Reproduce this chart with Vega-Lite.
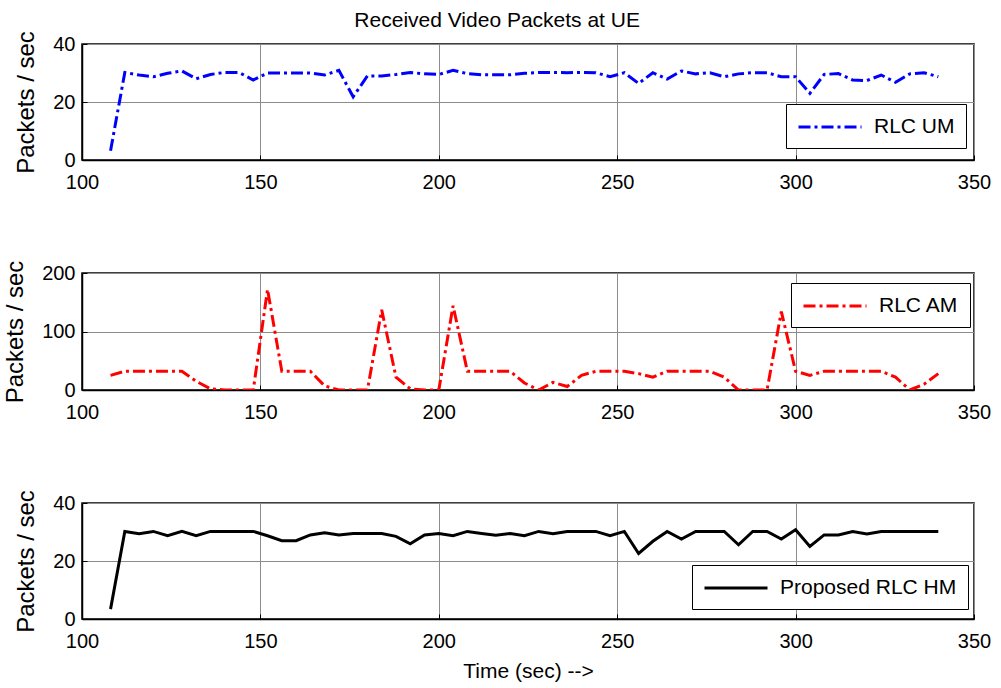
{
  "$schema": "https://vega.github.io/schema/vega-lite/v6.json",
  "background": "white",
  "padding": {"left": 2, "top": 9, "right": 5, "bottom": 5},
  "title": {"text": "Received Video Packets at UE", "fontSize": 21, "fontWeight": "normal", "font": "Liberation Sans", "color": "black", "anchor": "middle", "offset": -1},
  "data": {"values": [
    {"t":108,"RLC UM":3.2,"RLC AM":25,"Proposed RLC HM":3.4},
    {"t":112,"RLC UM":30.2,"RLC AM":32,"Proposed RLC HM":30.2},
    {"t":116,"RLC UM":29.3,"RLC AM":32,"Proposed RLC HM":29.4},
    {"t":120,"RLC UM":28.7,"RLC AM":32,"Proposed RLC HM":30.2},
    {"t":124,"RLC UM":29.9,"RLC AM":32,"Proposed RLC HM":28.7},
    {"t":128,"RLC UM":30.7,"RLC AM":32,"Proposed RLC HM":30.2},
    {"t":132,"RLC UM":28,"RLC AM":15,"Proposed RLC HM":28.7},
    {"t":136,"RLC UM":29.5,"RLC AM":2,"Proposed RLC HM":30.2},
    {"t":140,"RLC UM":30.2,"RLC AM":0,"Proposed RLC HM":30.2},
    {"t":144,"RLC UM":30.2,"RLC AM":0,"Proposed RLC HM":30.2},
    {"t":148,"RLC UM":27.6,"RLC AM":0,"Proposed RLC HM":30.2},
    {"t":152,"RLC UM":30,"RLC AM":172,"Proposed RLC HM":28.7},
    {"t":156,"RLC UM":30,"RLC AM":32,"Proposed RLC HM":27},
    {"t":160,"RLC UM":30,"RLC AM":32,"Proposed RLC HM":27},
    {"t":164,"RLC UM":30,"RLC AM":32,"Proposed RLC HM":29},
    {"t":168,"RLC UM":29.3,"RLC AM":7,"Proposed RLC HM":29.7},
    {"t":172,"RLC UM":30.9,"RLC AM":0,"Proposed RLC HM":29},
    {"t":176,"RLC UM":21.8,"RLC AM":0,"Proposed RLC HM":29.5},
    {"t":180,"RLC UM":29,"RLC AM":0,"Proposed RLC HM":29.5},
    {"t":184,"RLC UM":29,"RLC AM":137,"Proposed RLC HM":29.5},
    {"t":188,"RLC UM":29.5,"RLC AM":22,"Proposed RLC HM":28.5},
    {"t":192,"RLC UM":30.2,"RLC AM":2,"Proposed RLC HM":25.9},
    {"t":196,"RLC UM":29.7,"RLC AM":0,"Proposed RLC HM":29},
    {"t":200,"RLC UM":29.5,"RLC AM":0,"Proposed RLC HM":29.5},
    {"t":204,"RLC UM":30.9,"RLC AM":144,"Proposed RLC HM":28.7},
    {"t":208,"RLC UM":29.8,"RLC AM":32,"Proposed RLC HM":30.2},
    {"t":212,"RLC UM":29.4,"RLC AM":32,"Proposed RLC HM":29.5},
    {"t":216,"RLC UM":29.4,"RLC AM":32,"Proposed RLC HM":28.9},
    {"t":220,"RLC UM":29.4,"RLC AM":32,"Proposed RLC HM":29.5},
    {"t":224,"RLC UM":29.9,"RLC AM":12,"Proposed RLC HM":28.7},
    {"t":228,"RLC UM":30.2,"RLC AM":0,"Proposed RLC HM":30.2},
    {"t":232,"RLC UM":30.2,"RLC AM":13,"Proposed RLC HM":29.4},
    {"t":236,"RLC UM":30.1,"RLC AM":6,"Proposed RLC HM":30.2},
    {"t":240,"RLC UM":30.2,"RLC AM":25,"Proposed RLC HM":30.2},
    {"t":244,"RLC UM":30.1,"RLC AM":32,"Proposed RLC HM":30.2},
    {"t":248,"RLC UM":28.7,"RLC AM":32,"Proposed RLC HM":28.7},
    {"t":252,"RLC UM":30.1,"RLC AM":32,"Proposed RLC HM":30.2},
    {"t":256,"RLC UM":26.4,"RLC AM":28,"Proposed RLC HM":22.6},
    {"t":260,"RLC UM":30.1,"RLC AM":22,"Proposed RLC HM":26.8},
    {"t":264,"RLC UM":27.9,"RLC AM":32,"Proposed RLC HM":30.2},
    {"t":268,"RLC UM":30.7,"RLC AM":32,"Proposed RLC HM":27.6},
    {"t":272,"RLC UM":29.7,"RLC AM":32,"Proposed RLC HM":30.2},
    {"t":276,"RLC UM":30.1,"RLC AM":32,"Proposed RLC HM":30.2},
    {"t":280,"RLC UM":28.7,"RLC AM":22,"Proposed RLC HM":30.2},
    {"t":284,"RLC UM":29.7,"RLC AM":0,"Proposed RLC HM":25.6},
    {"t":288,"RLC UM":30.1,"RLC AM":0,"Proposed RLC HM":30.2},
    {"t":292,"RLC UM":30.1,"RLC AM":0,"Proposed RLC HM":30.2},
    {"t":296,"RLC UM":28.7,"RLC AM":134,"Proposed RLC HM":27.6},
    {"t":300,"RLC UM":28.7,"RLC AM":32,"Proposed RLC HM":30.8},
    {"t":304,"RLC UM":23,"RLC AM":25,"Proposed RLC HM":25},
    {"t":308,"RLC UM":29.5,"RLC AM":32,"Proposed RLC HM":29},
    {"t":312,"RLC UM":29.8,"RLC AM":32,"Proposed RLC HM":29},
    {"t":316,"RLC UM":27.6,"RLC AM":32,"Proposed RLC HM":30.2},
    {"t":320,"RLC UM":27.4,"RLC AM":32,"Proposed RLC HM":29.3},
    {"t":324,"RLC UM":29.3,"RLC AM":32,"Proposed RLC HM":30.2},
    {"t":328,"RLC UM":26.8,"RLC AM":22,"Proposed RLC HM":30.2},
    {"t":332,"RLC UM":29.7,"RLC AM":0,"Proposed RLC HM":30.2},
    {"t":336,"RLC UM":30.1,"RLC AM":10,"Proposed RLC HM":30.2},
    {"t":340,"RLC UM":28.7,"RLC AM":28,"Proposed RLC HM":30.2}
  ]},
  "spacing": 113,
  "bounds": "flush",
  "resolve": {"scale": {"color": "independent", "y": "independent"}, "legend": {"color": "independent"}},
  "vconcat": [
    {
      "width": 892, "height": 116,
      "transform": [{"fold": ["RLC UM"], "as": ["series", "v"]}],
      "mark": {"type": "line", "strokeWidth": 3, "strokeDash": [12, 4, 3, 4], "clip": true},
      "encoding": {
        "x": {"field": "t", "type": "quantitative", "scale": {"domain": [100, 350], "nice": false}, "axis": {"values": [100, 150, 200, 250, 300, 350], "title": null}},
        "y": {"field": "v", "type": "quantitative", "scale": {"domain": [0, 40], "nice": false}, "axis": {"values": [0, 20, 40], "title": "Packets / sec"}},
        "color": {"field": "series", "type": "nominal", "scale": {"range": ["#0000ff"]}, "legend": {"orient": "none", "legendX": 704, "legendY": 60, "symbolDash": [12, 4, 3, 4]}}
      }
    },
    {
      "width": 892, "height": 117,
      "transform": [{"fold": ["RLC AM"], "as": ["series", "v"]}],
      "mark": {"type": "line", "strokeWidth": 3, "strokeDash": [12, 4, 3, 4], "clip": true},
      "encoding": {
        "x": {"field": "t", "type": "quantitative", "scale": {"domain": [100, 350], "nice": false}, "axis": {"values": [100, 150, 200, 250, 300, 350], "title": null}},
        "y": {"field": "v", "type": "quantitative", "scale": {"domain": [0, 200], "nice": false}, "axis": {"values": [0, 100, 200], "title": "Packets / sec"}},
        "color": {"field": "series", "type": "nominal", "scale": {"range": ["#ff0000"]}, "legend": {"orient": "none", "legendX": 709, "legendY": 10, "symbolDash": [12, 4, 3, 4]}}
      }
    },
    {
      "width": 892, "height": 116,
      "transform": [{"fold": ["Proposed RLC HM"], "as": ["series", "v"]}],
      "mark": {"type": "line", "strokeWidth": 3, "clip": true},
      "encoding": {
        "x": {"field": "t", "type": "quantitative", "scale": {"domain": [100, 350], "nice": false}, "axis": {"values": [100, 150, 200, 250, 300, 350], "title": "Time (sec) -->"}},
        "y": {"field": "v", "type": "quantitative", "scale": {"domain": [0, 40], "nice": false}, "axis": {"values": [0, 20, 40], "title": "Packets / sec"}},
        "color": {"field": "series", "type": "nominal", "scale": {"range": ["#000000"]}, "legend": {"orient": "none", "legendX": 610, "legendY": 62}}
      }
    }
  ],
  "config": {
    "font": "Liberation Sans",
    "view": {"stroke": "black", "strokeWidth": 1.5},
    "axis": {
      "labelFont": "Liberation Sans", "labelFontSize": 20, "labelColor": "black", "labelFlush": false,
      "titleFont": "Liberation Sans", "titleFontSize": 21, "titleFontWeight": "normal", "titleColor": "black",
      "grid": true, "gridColor": "#8c8c8c", "gridWidth": 1,
      "domainColor": "black", "domainWidth": 1.5,
      "tickColor": "black", "tickSize": -5
    },
    "axisY": {"titlePadding": 14, "titleFontSize": 24, "labelPadding": 12},
    "axisX": {"titlePadding": 9, "labelPadding": 17},
    "legend": {
      "title": null, "strokeColor": "black", "fillColor": "white", "padding": 11,
      "symbolType": "M-3,0H3", "symbolSize": 441, "symbolStrokeWidth": 3, "symbolOffset": 21,
      "labelFont": "Liberation Sans", "labelFontSize": 21, "labelColor": "black", "labelOffset": 32, "labelLimit": 400
    }
  }
}
